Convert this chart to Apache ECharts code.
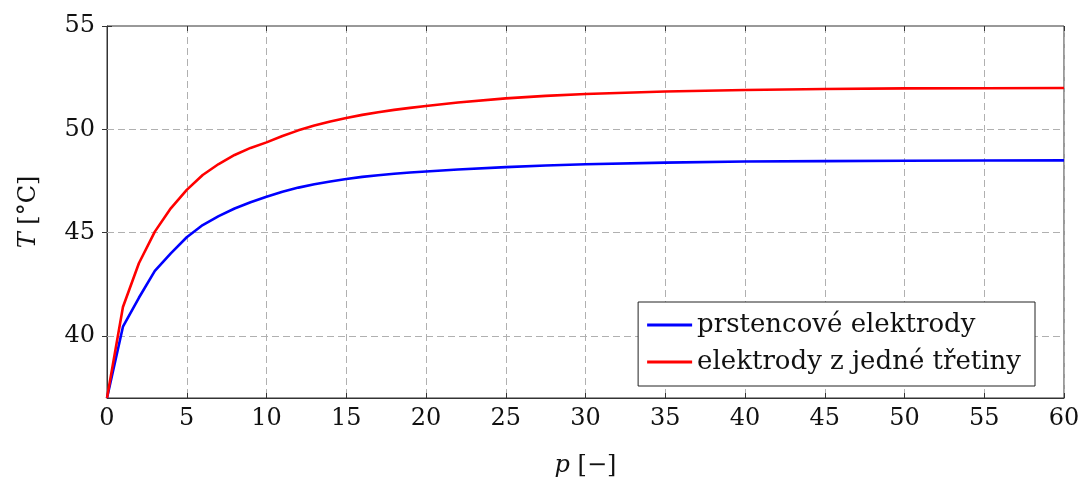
<!DOCTYPE html>
<html><head><meta charset="utf-8">
<script src="https://cdn.jsdelivr.net/npm/echarts@6/dist/echarts.min.js"></script>
<style>html,body{margin:0;padding:0;background:#fff}#c{width:1086px;height:483px}</style>
</head><body><div id="c"></div>
<script>
const pValues = [0,1,2,3,4,5,6,7,8,9,10,11,12,13,14,15,16,17,18,19,20,22,25,27.5,30,35,40,45,50,55,60];
const ringElectrodes = [37,40.45,41.85,43.15,44.0,44.78,45.37,45.8,46.17,46.47,46.74,46.98,47.18,47.34,47.48,47.6,47.7,47.78,47.85,47.91,47.96,48.06,48.17,48.25,48.31,48.39,48.44,48.46,48.48,48.49,48.5];
const thirdElectrodes = [37,41.4,43.52,45.05,46.18,47.07,47.79,48.32,48.76,49.1,49.37,49.68,49.95,50.18,50.38,50.55,50.7,50.83,50.94,51.04,51.13,51.3,51.5,51.62,51.71,51.83,51.9,51.95,51.98,51.99,52.0];
const seriesNames = ['prstencové elektrody','elektrody z jedné třetiny'];
const xTicks = [0,5,10,15,20,25,30,35,40,45,50,55,60];
const yTicks = [40,45,50,55];

const FONT = '"DejaVu Serif", "Liberation Serif", serif';
const FS = 24;
const chart = echarts.init(document.getElementById('c'), null, {renderer:'canvas'});
const dash = {color:'#b0b0b0', type:[7,4], width:1};
chart.setOption({
  animation:false,
  backgroundColor:'#fff',
  grid: {left:107, top:26, right:22, bottom:85, show:true, borderColor:'#333', borderWidth:1},
  legend: {
    orient:'vertical', right:51, top:302,
    backgroundColor:'#fff', borderColor:'#222', borderWidth:1,
    padding:[10,14,11,9], itemGap:11,
    icon:'rect', itemWidth:45, itemHeight:3,
    textStyle:{fontFamily:FONT, fontSize:26, color:'#111', lineHeight:26},
    data: seriesNames
  },
  xAxis: [{
    type:'value', min:0, max:60, interval:5,
    axisLine:{show:true, onZero:false, lineStyle:{color:'#333'}},
    axisTick:{show:true, inside:true, length:5, lineStyle:{color:'#333'}},
    axisLabel:{fontFamily:FONT, fontSize:FS, color:'#111', margin:9},
    splitLine:{show:true, lineStyle:dash},
    name:'{i|p} [−]', nameLocation:'middle', nameGap:56,
    nameTextStyle:{fontFamily:FONT, fontSize:FS, color:'#111', rich:{i:{fontFamily:FONT, fontSize:FS, fontStyle:'italic', color:'#111'}}}
  },{
    type:'value', position:'top', min:0, max:60, interval:5,
    axisLine:{show:false}, axisTick:{show:true, inside:true, length:5, lineStyle:{color:'#333'}},
    axisLabel:{show:false}, splitLine:{show:false}
  }],
  yAxis: [{
    type:'value', min:37, max:55,
    axisLine:{show:true, onZero:false, lineStyle:{color:'#333'}},
    axisTick:{show:true, inside:true, length:5, lineStyle:{color:'#333'}, customValues:yTicks},
    axisLabel:{fontFamily:FONT, fontSize:FS, color:'#111', margin:12, customValues:yTicks},
    splitLine:{show:false},
    name:'{i|T} [°C]', nameLocation:'middle', nameGap:66, nameRotate:90,
    nameTextStyle:{fontFamily:FONT, fontSize:FS, color:'#111', rich:{i:{fontFamily:FONT, fontSize:FS, fontStyle:'italic', color:'#111'}}}
  },{
    type:'value', position:'right', min:37, max:55,
    axisLine:{show:false}, axisTick:{show:true, inside:true, length:5, lineStyle:{color:'#333'}, customValues:yTicks},
    axisLabel:{show:false, customValues:yTicks}, splitLine:{show:false}
  }],
  series: [
    {name:seriesNames[0], type:'line', showSymbol:false, symbol:'none', smooth:false, z:3,
     lineStyle:{color:'#0000ff', width:2.6}, itemStyle:{color:'#0000ff'},
     markLine:{silent:true, symbol:'none', label:{show:false}, lineStyle:dash, z:1,
       data: yTicks.slice(0,3).map(v=>({yAxis:v}))},
     data: pValues.map((p,i)=>[p, ringElectrodes[i]])},
    {name:seriesNames[1], type:'line', showSymbol:false, symbol:'none', smooth:false, z:3,
     lineStyle:{color:'#ff0000', width:2.6}, itemStyle:{color:'#ff0000'},
     data: pValues.map((p,i)=>[p, thirdElectrodes[i]])}
  ]
});
</script></body></html>
